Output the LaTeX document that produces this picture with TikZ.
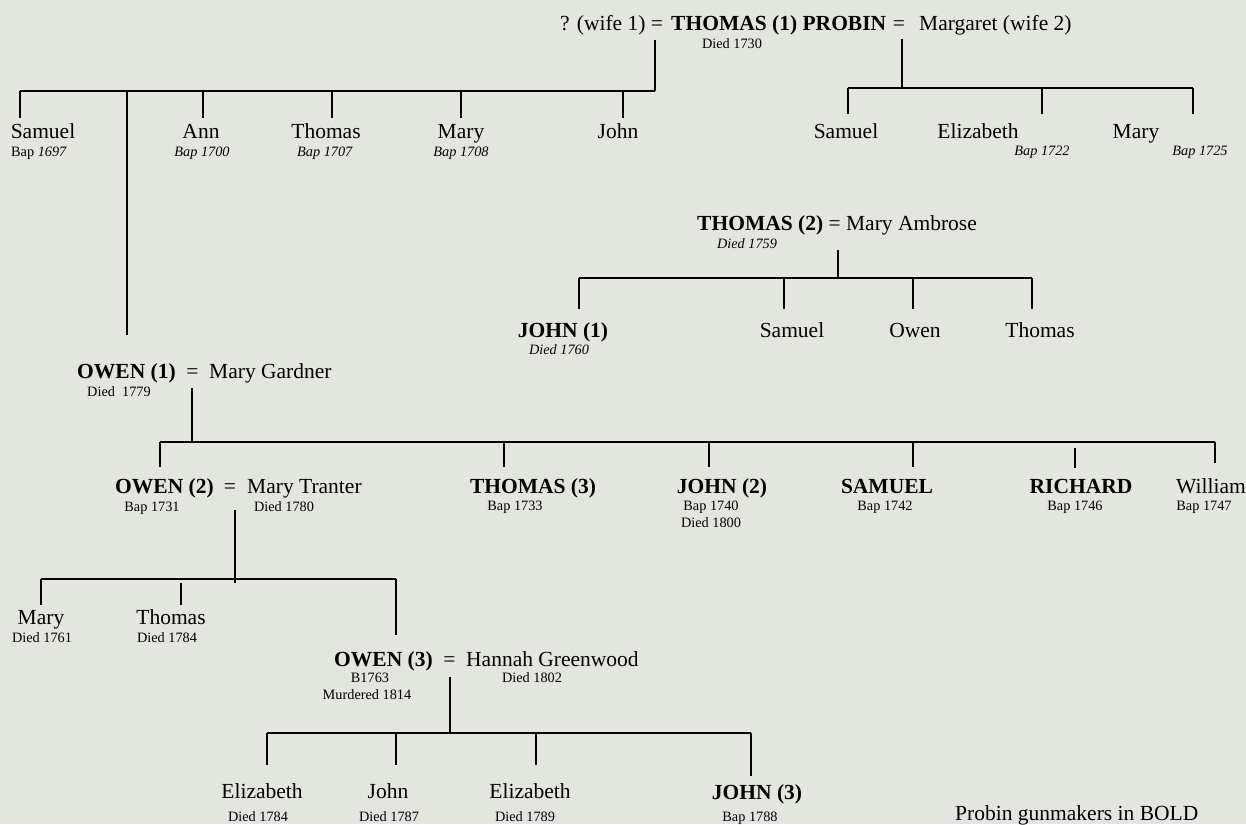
\documentclass[tikz,border=0pt]{standalone}
\usepackage{fontspec}
\setmainfont{Liberation Serif}
\definecolor{bgc}{RGB}{227,229,223}
\newcommand{\nmfont}{\fontsize{21.5}{24}\selectfont}
\newcommand{\smfont}{\fontsize{14.3}{16}\selectfont}
\begin{document}
\begin{tikzpicture}[x=1pt,y=-1pt,
  nm/.style={font=\nmfont, inner sep=0pt, anchor=base},
  nmw/.style={font=\nmfont, inner sep=0pt, anchor=base west},
  sm/.style={font=\smfont, inner sep=0pt, anchor=base},
  ln/.style={line width=1.8pt, line cap=butt},
  bar/.style={line width=2pt}]
\fill[bgc] (0,0) rectangle (1246,824);
\useasboundingbox (0,0) rectangle (1246,824);

% ---------- generation 1 ----------
\node[nmw] (w1) at (560,31) {? (wife 1) =};
\node[nmw] (t1) at (671,31) {\textbf{THOMAS (1) PROBIN}};
\node[nm] (eq1) at (899,31) {=};
\node[nmw] (mg) at (919,31) {Margaret (wife 2)};
\node[sm] (d1730) at (732,49) {Died 1730};

\coordinate (a0) at (655,40);
\coordinate (a1) at (655,91);
\coordinate (aL) at (20,91);
\draw[ln] (a0) -- (a1);
\draw[bar] (aL) -- (a1);

% children of wife 1
\node[nm] (samuel1) at (43,138) {Samuel};
\node[sm] (samuel1b) at (39,156) {Bap \textit{1697}};
\node[nm] (ann) at (201,138) {Ann};
\node[sm] (annb) at (202,156) {\textit{Bap 1700}};
\node[nm] (thomasA) at (326,138) {Thomas};
\node[sm] (thomasAb) at (325,156) {\textit{Bap 1707}};
\node[nm] (maryA) at (461,138) {Mary};
\node[sm] (maryAb) at (461,156) {\textit{Bap 1708}};
\node[nm] (johnA) at (618,138) {John};

\foreach \x/\n in {20/s,203/a,332/t,461/m,623/j}{
  \coordinate (tk\n1) at (\x,91);
  \coordinate (tk\n2) at (\x,118);
  \draw[ln] (tk\n1) -- (tk\n2);
}
\coordinate (ow0) at (127,91);
\coordinate (ow1) at (127,335);
\draw[ln] (ow0) -- (ow1);

% children of wife 2
\coordinate (b0) at (902,39);
\coordinate (b1) at (902,88);
\coordinate (bL) at (848,88);
\coordinate (bR) at (1193,88);
\draw[ln] (b0) -- (b1);
\draw[bar] (bL) -- (bR);
\foreach \x/\n in {848/s,1042/e,1193/m}{
  \coordinate (tb\n1) at (\x,88);
  \coordinate (tb\n2) at (\x,114);
  \draw[ln] (tb\n1) -- (tb\n2);
}
\node[nm] (samuel2) at (846,138) {Samuel};
\node[nm] (eliz1) at (978,138) {Elizabeth};
\node[sm] (eliz1b) at (1042,155) {\textit{Bap 1722}};
\node[nm] (mary2) at (1136,138) {Mary};
\node[sm] (mary2b) at (1200,155) {\textit{Bap 1725}};

% ---------- THOMAS (2) ----------
\node[nmw] (t2) at (697,230) {\textbf{THOMAS (2)} = Mary Ambrose};
\node[sm] (d1759) at (747,248) {\textit{Died 1759}};
\coordinate (c0) at (838,250);
\coordinate (c1) at (838,278);
\coordinate (cL) at (579,278);
\coordinate (cR) at (1032,278);
\draw[ln] (c0) -- (c1);
\draw[bar] (cL) -- (cR);
\foreach \x/\n in {579/j,784/s,913/o,1032/t}{
  \coordinate (tc\n1) at (\x,278);
  \coordinate (tc\n2) at (\x,309);
  \draw[ln] (tc\n1) -- (tc\n2);
}
\node[nm] (john1) at (563,337) {\textbf{JOHN (1)}};
\node[sm] (d1760) at (559,354) {\textit{Died 1760}};
\node[nm] (samuel3) at (792,337) {Samuel};
\node[nm] (owenB) at (915,337) {Owen};
\node[nm] (thomasB) at (1040,337) {Thomas};

% ---------- OWEN (1) ----------
\node[nmw] (owen1) at (77,378) {\textbf{OWEN (1)}};
\node[nm] (eq2) at (192.5,378) {=};
\node[nmw] (mgard) at (209,378) {Mary Gardner};
\node[sm] (d1779) at (119,396) {Died\ \ 1779};
\coordinate (d0) at (192,388);
\coordinate (d1) at (192,442);
\coordinate (dL) at (160,442);
\coordinate (dR) at (1215,442);
\draw[ln] (d0) -- (d1);
\draw[bar] (dL) -- (dR);
\foreach \x/\n in {160/o,504/t,709/j,913/s,1215/w}{
  \coordinate (td\n1) at (\x,442);
}
\coordinate (tdo2) at (160,467);
\coordinate (tdt2) at (504,467);
\coordinate (tdj2) at (709,467);
\coordinate (tds2) at (913,467);
\coordinate (tdw2) at (1215,463);
\coordinate (tdr1) at (1075,448);
\coordinate (tdr2) at (1075,468);
\foreach \n in {o,t,j,s,w,r}{ \draw[ln] (td\n1) -- (td\n2); }

\node[nmw] (owen2) at (115,493) {\textbf{OWEN (2)}};
\node[nm] (eq3) at (230,493) {=};
\node[nmw] (mtran) at (247,493) {Mary Tranter};
\node[sm] (b1731) at (152,511) {Bap 1731};
\node[sm] (d1780) at (284,511) {Died 1780};
\node[nm] (thomas3) at (533,493) {\textbf{THOMAS (3)}};
\node[sm] (b1733) at (515,510) {Bap 1733};
\node[nm] (john2) at (722,493) {\textbf{JOHN (2)}};
\node[sm] (b1740) at (711,510) {Bap 1740};
\node[sm] (d1800) at (711,527) {Died 1800};
\node[nm] (samuelB) at (887,493) {\textbf{SAMUEL}};
\node[sm] (b1742) at (885,510) {Bap 1742};
\node[nm] (richard) at (1081,493) {\textbf{RICHARD}};
\node[sm] (b1746) at (1075,510) {Bap 1746};
\node[nmw] (william) at (1176,493) {William};
\node[sm] (b1747) at (1204,510) {Bap 1747};

% ---------- OWEN (2) children ----------
\coordinate (e0) at (235,510);
\coordinate (e1) at (235,583);
\coordinate (eL) at (41,579);
\coordinate (eR) at (396,579);
\draw[ln] (e0) -- (e1);
\draw[bar] (eL) -- (eR);
\coordinate (tem1) at (41,579);
\coordinate (tem2) at (41,605);
\coordinate (tet1) at (181,583);
\coordinate (tet2) at (181,605);
\coordinate (teo1) at (396,579);
\coordinate (teo2) at (396,635);
\foreach \n in {m,t,o}{ \draw[ln] (te\n1) -- (te\n2); }
\node[nm] (mary3) at (41,624) {Mary};
\node[sm] (d1761) at (42,642) {Died 1761};
\node[nm] (thomas4) at (171,624) {Thomas};
\node[sm] (d1784a) at (167,642) {Died 1784};

\node[nmw] (owen3) at (334,666) {\textbf{OWEN (3)}};
\node[nm] (eq4) at (449.5,666) {=};
\node[nmw] (hannah) at (466,666) {Hannah Greenwood};
\node[sm] (b1763) at (370,682) {B1763};
\node[sm] (m1814) at (367,699) {Murdered 1814};
\node[sm] (d1802) at (532,682) {Died 1802};

% ---------- OWEN (3) children ----------
\coordinate (f0) at (450,677);
\coordinate (f1) at (450,733);
\coordinate (fL) at (267,733);
\coordinate (fR) at (751,733);
\draw[ln] (f0) -- (f1);
\draw[bar] (fL) -- (fR);
\foreach \x/\n/\y in {267/a/765,396/b/765,536/c/765,751/d/776}{
  \coordinate (tf\n1) at (\x,733);
  \coordinate (tf\n2) at (\x,\y);
  \draw[ln] (tf\n1) -- (tf\n2);
}
\node[nm] (eliz2) at (262,798) {Elizabeth};
\node[sm] (d1784b) at (258,821) {Died 1784};
\node[nm] (john4) at (388,798) {John};
\node[sm] (d1787) at (389,821) {Died 1787};
\node[nm] (eliz3) at (530,798) {Elizabeth};
\node[sm] (d1789) at (525,821) {Died 1789};
\node[nm] (john3) at (757,799) {\textbf{JOHN (3)}};
\node[sm] (b1788) at (750,821) {Bap 1788};

\node[nmw] (legend) at (955,820) {Probin gunmakers in BOLD};
\end{tikzpicture}
\end{document}
